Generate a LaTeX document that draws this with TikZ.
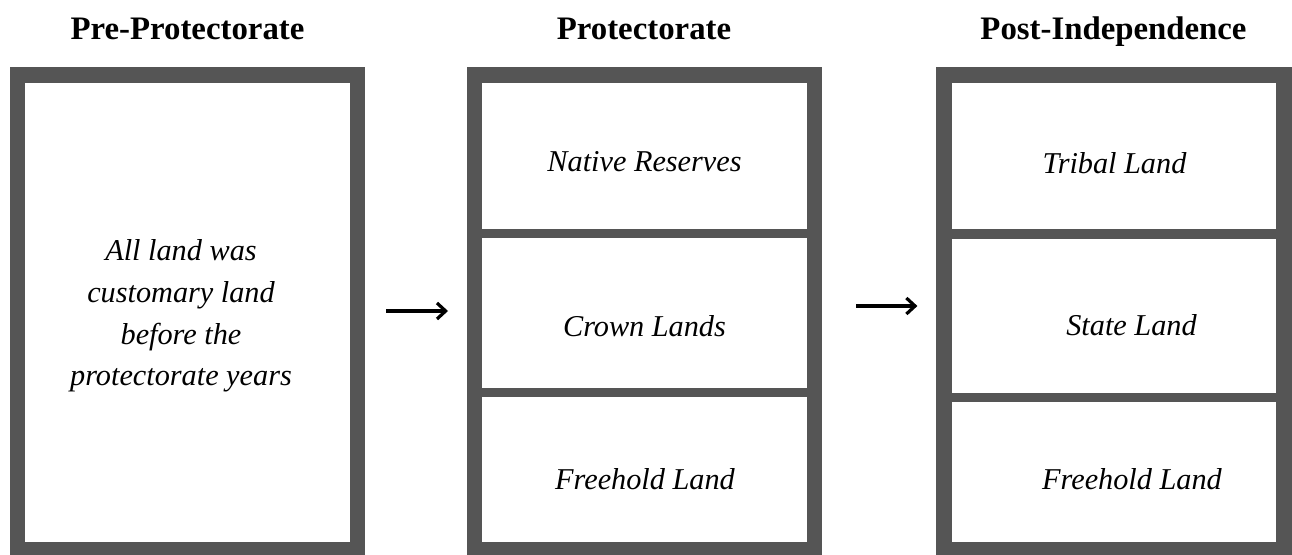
\documentclass[tikz,border=0pt]{standalone}
\usepackage{fontspec}
\setmainfont{Liberation Serif}
\usetikzlibrary{arrows.meta}
\definecolor{framegray}{RGB}{85,85,85}
\tikzset{
	stage/.style={draw=framegray, line width=11.6pt, inner sep=0pt, minimum width=254.8pt, minimum height=356.1pt},
	divider/.style={draw=framegray, line width=7.1pt},
	heading/.style={anchor=base, font=\fontsize{24.6}{30}\selectfont\bfseries},
	cell/.style={anchor=base, font=\fontsize{22.7}{31.3}\selectfont\itshape},
	flow/.style={line width=2.4pt, -{Straight Barb[length=6.5pt, width=12pt, line width=2.4pt]}}
}

\begin{document}
\begin{tikzpicture}[x=0.75pt, y=-0.75pt]
		%%%%% START %%%%%
		\useasboundingbox (0, 0) rectangle (1292, 555);
		\clip (0, 0) rectangle (1292, 555);
		
		\node[heading] (preTitle) at (187.5, 40) {Pre-Protectorate};
		\node[heading] (protTitle) at (644, 40) {Protectorate};
		\node[heading] (postTitle) at (1113.5, 40) {Post-Independence};
		
		\node[stage] (pre) at (187.5, 312.4) {};
		\node[stage] (prot) at (644.6, 312.4) {};
		\node[stage] (post) at (1114, 312.4) {};
		
		\draw[divider] (474.75, 233.5) -- (814.5, 233.5);
		\draw[divider] (474.75, 392.5) -- (814.5, 392.5);
		\draw[divider] (944, 234) -- (1284, 234);
		\draw[divider] (944, 397.5) -- (1284, 397.5);
		
		\node[cell, anchor=center, align=center] (preText) at (181, 316) {All land was\\customary land\\before the\\protectorate years};
		
		\node[cell] (native) at (644.5, 172) {Native Reserves};
		\node[cell] (crown) at (644.5, 337) {Crown Lands};
		\node[cell] (freeProt) at (645, 489) {Freehold Land};
		
		\node[cell] (tribal) at (1114.5, 174) {Tribal Land};
		\node[cell] (state) at (1131.5, 336) {State Land};
		\node[cell] (freePost) at (1132, 489) {Freehold Land};
		
		\draw[flow] ([shift={(21, -1.4)}]pre.east) -- ([shift={(-19, -1.4)}]prot.west);
		\draw[flow] ([shift={(34, -6.4)}]prot.east) -- ([shift={(-19, -6.4)}]post.west);
		%%%%% END %%%%%
	\end{tikzpicture}
\end{document}
